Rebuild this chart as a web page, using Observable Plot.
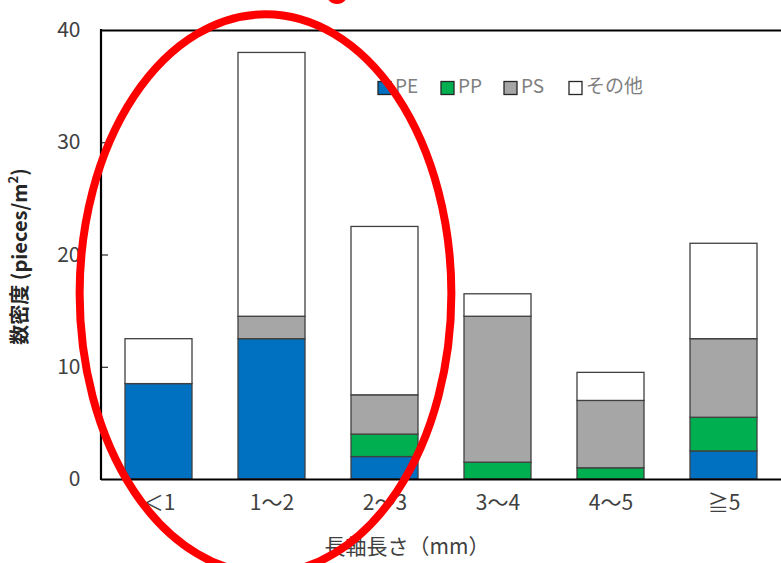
<!DOCTYPE html>
<html>
<head>
<meta charset="utf-8">
<script src="https://cdn.jsdelivr.net/npm/d3@7"></script>
<script src="https://cdn.jsdelivr.net/npm/@observablehq/plot@0.6"></script>
<style>
  html, body { margin: 0; padding: 0; background: #fff; }
  #chart svg { display: block; }
</style>
</head>
<body>
<div id="chart"></div>
<script>
// Size classes along the long axis (mm)
const categories = ["＜1", "1～2", "2～3", "3～4", "4～5", "≧5"];
// Number density per polymer type (pieces/m²), stacked bottom to top
const seriesNames = ["PE", "PP", "PS", "その他"];
const pe    = [8.5, 12.5, 2.0, 0,    0,   2.5];
const pp    = [0,   0,    2.0, 1.5,  1.0, 3.0];
const ps    = [0,   2.0,  3.5, 13.0, 6.0, 7.0];
const other = [4.0, 23.5, 15.0, 2.0, 2.5, 8.5];
const seriesColors = ["#0070C0", "#00B050", "#A6A6A6", "#FFFFFF"];
const yTicks = [0, 10, 20, 30, 40];

const seriesValues = [pe, pp, ps, other];
const rows = [];
seriesNames.forEach((name, s) => {
  categories.forEach((cat, i) => {
    const v = seriesValues[s][i];
    if (v > 0) rows.push({ category: cat, series: name, value: v });
  });
});

const W = 781, H = 563;
const font = "'Noto Sans CJK JP', 'Noto Sans', sans-serif";
const textColor = "#404040";

const chart = Plot.plot({
  width: W,
  height: H,
  marginLeft: 101,
  marginRight: 0,
  marginTop: 30,
  marginBottom: 84,
  style: { fontFamily: font, background: "#fff" },
  x: { domain: categories, paddingInner: 0.41, paddingOuter: 0.205, label: null },
  y: { domain: [0, 40], label: null },
  color: { domain: seriesNames, range: seriesColors },
  marks: [
    Plot.barY(rows, Plot.stackY({
      x: "category",
      y: "value",
      z: "series",
      fill: "series",
      stroke: "#404040",
      strokeWidth: 1.3,
      order: seriesNames
    })),
    Plot.ruleY([0], { stroke: "#000", strokeWidth: 2.2 }),
    Plot.ruleY([40], { stroke: "#000", strokeWidth: 2 }),
    Plot.axisY({
      ticks: yTicks,
      tickSize: -7,
      tickPadding: 28,
      fontSize: 21,
      color: textColor,
      stroke: "#000",
      label: null
    }),
    Plot.axisX({
      tickSize: 0,
      tickPadding: 16,
      fontSize: 21,
      color: textColor,
      label: null
    })
  ]
});

const svg = d3.select(chart);
const sx = chart.scale("x");
const sy = chart.scale("y");
const left = sx.range[0];
const bw = (sx.range[1] - sx.range[0]) / categories.length;

// left axis line
svg.append("line")
  .attr("x1", left).attr("x2", left)
  .attr("y1", sy.apply(40) - 1).attr("y2", sy.apply(0) + 1)
  .attr("stroke", "#000").attr("stroke-width", 2.2);

// y-axis title with superscript
const yt = svg.append("text")
  .attr("transform", `translate(22,${(sy.apply(0) + sy.apply(40)) / 2 + 2}) rotate(-90)`)
  .attr("text-anchor", "middle")
  .attr("dominant-baseline", "middle")
  .attr("font-family", font)
  .attr("font-size", 20)
  .attr("font-weight", "bold")
  .attr("fill", "#262626");
yt.append("tspan").text("数密度 (pieces/m");
yt.append("tspan").attr("font-size", 13).attr("dy", -8).text("2");
yt.append("tspan").attr("dy", 8).text(")");

// x-axis title
svg.append("text")
  .attr("x", left + bw * 2.7)
  .attr("y", 548)
  .attr("text-anchor", "middle")
  .attr("dominant-baseline", "middle")
  .attr("font-family", font)
  .attr("font-size", 21)
  .attr("fill", textColor)
  .text("長軸長さ（mm）");

// legend
const legendX = [378, 441, 504, 569];
const legend = svg.append("g")
  .attr("font-family", font)
  .attr("font-size", 19)
  .attr("fill", "#7F7F7F")
  .attr("text-anchor", "start");
seriesNames.forEach((name, i) => {
  legend.append("rect")
    .attr("x", legendX[i]).attr("y", 81.5)
    .attr("width", 13).attr("height", 13)
    .attr("fill", seriesColors[i])
    .attr("stroke", "#262626").attr("stroke-width", 1.3);
  legend.append("text")
    .attr("x", legendX[i] + 17).attr("y", 88)
    .attr("dominant-baseline", "middle")
    .text(name);
});

// highlight ring around the smaller size classes
svg.append("ellipse")
  .attr("cx", sx.apply("1～2") + sx.bandwidth / 2 - 6)
  .attr("cy", sy.apply(16.5))
  .attr("rx", bw * 1.64)
  .attr("ry", sy.apply(0) - sy.apply(24.9))
  .attr("fill", "none")
  .attr("stroke", "#FF0000")
  .attr("stroke-width", 8);

// red marker at the top edge
svg.append("circle")
  .attr("cx", 337).attr("cy", -7)
  .attr("r", 11)
  .attr("fill", "#FF0000");

document.getElementById("chart").appendChild(chart);
</script>
</body>
</html>
